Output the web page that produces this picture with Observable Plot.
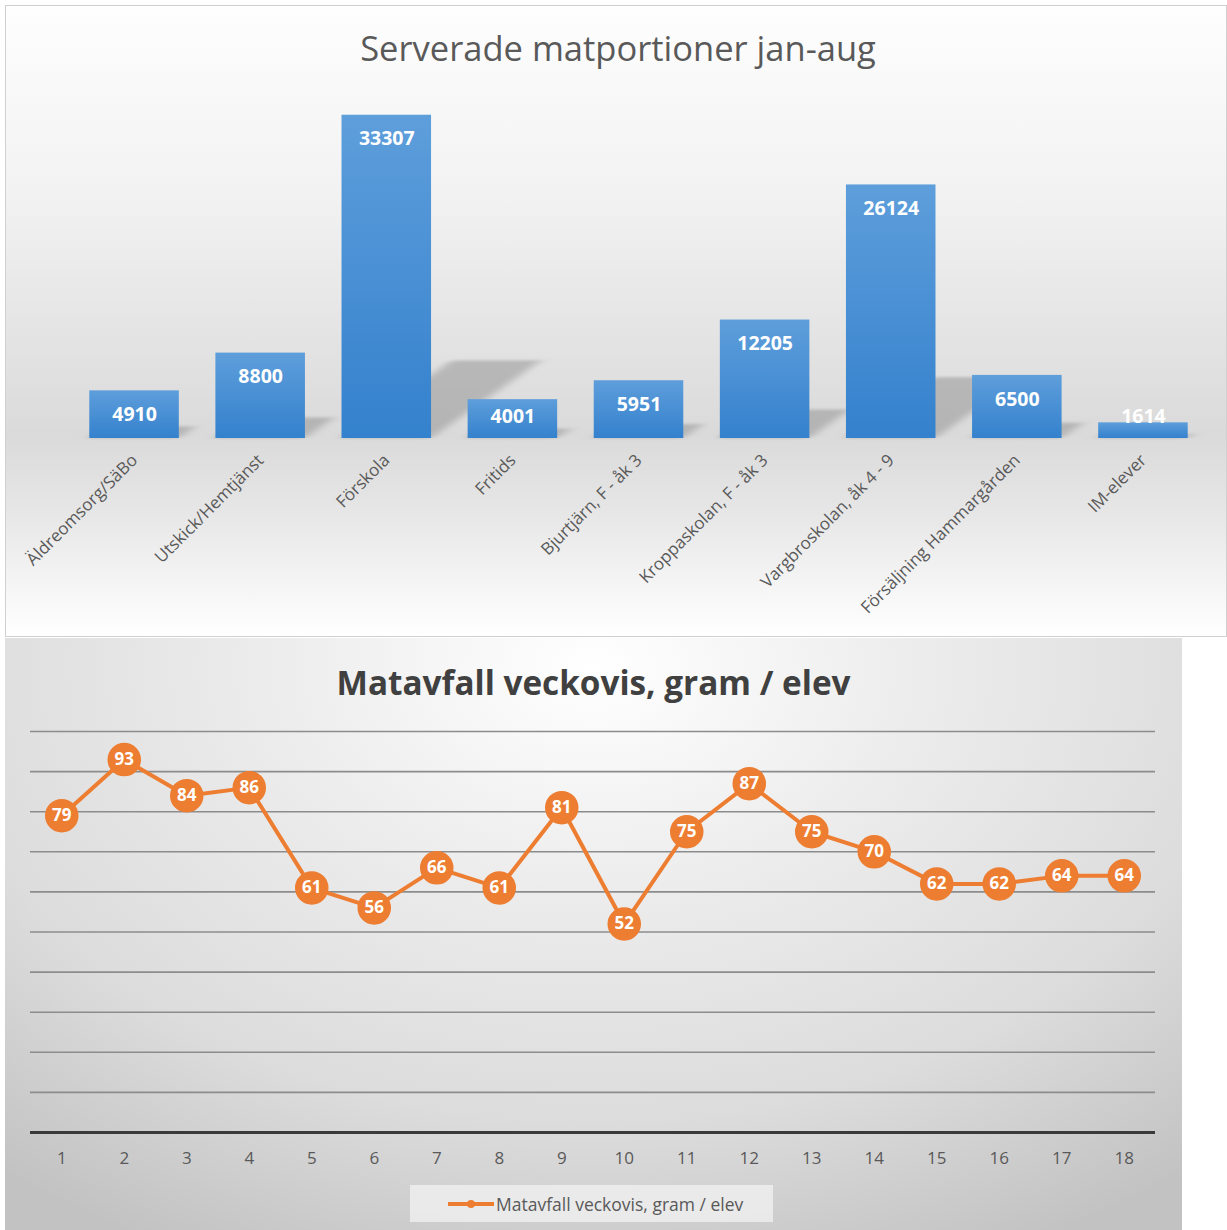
<!DOCTYPE html>
<html>
<head>
<meta charset="utf-8">
<script src="https://cdn.jsdelivr.net/npm/d3@7"></script>
<script src="https://cdn.jsdelivr.net/npm/@observablehq/plot@0.6"></script>
<style>
  html, body { margin: 0; padding: 0; background: #ffffff; width: 1227px; height: 1230px; overflow: hidden; }
  #top {
    position: absolute; left: 5px; top: 5px; width: 1220px; height: 630px;
    border: 1px solid #d0d0d0;
    background: linear-gradient(to bottom, #fefefe 0%, #f2f2f2 30%, #dadada 68%, #e6e6e6 80%, #ffffff 100%);
  }
  #top .title {
    height: 90px; line-height: 84px; text-align: center;
    font-family: "Open Sans", sans-serif; font-size: 34.5px; color: #595959;
    padding-left: 4px;
  }
  #bottom {
    position: absolute; left: 5px; top: 638px; width: 1177px; height: 592px;
    background: radial-gradient(ellipse 80% 110% at 50% 5%, #ffffff 0%, #ececec 35%, #dcdcdc 70%, #c2c2c2 100%);
  }
  #bottom .title {
    height: 89px; line-height: 88px; text-align: center;
    font-family: "Open Sans", sans-serif; font-weight: 700; font-size: 33.3px; color: #404040;
  }
  #legend {
    position: absolute; left: 405px; top: 547px; width: 363px; height: 37px;
    background: rgba(240,240,240,0.8);
    font-family: "Open Sans", sans-serif; font-size: 17.5px; color: #595959;
    display: flex; align-items: center;
  }
  #legend svg { margin-left: 36px; }
  svg { display: block; overflow: visible; }
</style>
</head>
<body>
<div id="top"><div class="title">Serverade matportioner jan-aug</div></div>
<div id="bottom"><div class="title">Matavfall veckovis, gram / elev</div><div id="legend"></div></div>
<script>
// ---- Data: top chart ----
const categories = [
  "Äldreomsorg/SäBo", "Utskick/Hemtjänst", "Förskola", "Fritids",
  "Bjurtjärn, F - åk 3", "Kroppaskolan, F - åk 3", "Vargbroskolan, åk 4 - 9",
  "Försäljning Hammargården", "IM-elever"
];
const portions = [4910, 8800, 33307, 4001, 5951, 12205, 26124, 6500, 1614];
// labels of short bars sit at the same height as that of a bar of this value
const minLabelValue = 4750;

// ---- Data: bottom chart ----
const weeks = [1,2,3,4,5,6,7,8,9,10,11,12,13,14,15,16,17,18];
const waste = [79,93,84,86,61,56,66,61,81,52,75,87,75,70,62,62,64,64];
const wasteTicks = [0,10,20,30,40,50,60,70,80,90,100];
const seriesName = "Matavfall veckovis, gram / elev";

const barData = categories.map((c, i) => ({cat: c, value: portions[i]}));
const lineData = weeks.map((w, i) => ({week: w, value: waste[i]}));

// ---- Top: bar chart ----
const bar = Plot.plot({
  width: 1220,
  height: 540,
  marginTop: 12,
  marginBottom: 198,
  marginLeft: 65,
  marginRight: 20,
  style: {background: "transparent", fontFamily: "Open Sans, sans-serif"},
  x: {domain: categories, paddingInner: 0.29, paddingOuter: 0.145, round: false, label: null},
  y: {domain: [0, 34000], axis: null},
  marks: [
    Plot.barY(barData, {x: "cat", y: "value", fill: "url(#barGrad)"}),
    Plot.text(barData, {x: "cat", y: d => Math.max(d.value, minLabelValue), text: d => String(d.value), dy: 24,
      fill: "white", fontWeight: "bold", fontSize: 19.5}),
    Plot.axisX({tickSize: 0, tickPadding: 19, tickRotate: -45, fontSize: 17, fill: "#595959", label: null})
  ]
});
document.getElementById("top").appendChild(bar);

// gradient + perspective shadow (derived from the rendered bars)
(function () {
  const svg = d3.select(bar);
  const defs = svg.insert("defs", ":first-child");
  const g = defs.append("linearGradient").attr("id", "barGrad").attr("x1", 0).attr("y1", 0).attr("x2", 0).attr("y2", 1);
  g.append("stop").attr("offset", "0%").attr("stop-color", "#5e9edb");
  g.append("stop").attr("offset", "100%").attr("stop-color", "#3481cd");
  const f = defs.append("filter").attr("id", "blur").attr("x", "-50%").attr("y", "-50%").attr("width", "200%").attr("height", "200%");
  f.append("feGaussianBlur").attr("stdDeviation", 6);
  const base = bar.scale("y").apply(0);
  const barsG = svg.select('g[aria-label="bar"]');
  const shadow = barsG.node().cloneNode(true);
  shadow.setAttribute("aria-label", "bar-shadow");
  shadow.setAttribute("fill", "#7a7a7a");
  shadow.setAttribute("fill-opacity", "0.4");
  shadow.setAttribute("filter", "url(#blur)");
  shadow.setAttribute("transform", `matrix(1,0,-0.34,0.24,${0.34 * base},${0.76 * base})`);
  shadow.querySelectorAll("rect").forEach(r => r.removeAttribute("fill"));
  barsG.node().parentNode.insertBefore(shadow, barsG.node());
})();

// ---- Bottom: line chart ----
const line = Plot.plot({
  width: 1177,
  height: 445,
  marginTop: 4,
  marginBottom: 40,
  marginLeft: 25,
  marginRight: 27,
  style: {background: "transparent", fontFamily: "Open Sans, sans-serif"},
  x: {type: "point", domain: weeks, padding: 0.5, round: false, label: null},
  y: {domain: [0, 100], axis: null},
  marks: [
    Plot.ruleY(wasteTicks.filter(t => t > 0), {stroke: "#8c8c8c", strokeWidth: 1.6}),
    Plot.ruleY([0], {stroke: "#3a3a3a", strokeWidth: 3}),
    Plot.line(lineData, {x: "week", y: "value", stroke: "#ed7d31", strokeWidth: 4}),
    Plot.dot(lineData, {x: "week", y: "value", r: 16, fill: "#ed7d31", stroke: "#ed7d31"}),
    Plot.text(lineData, {x: "week", y: "value", text: d => String(d.value), fill: "white",
      fontWeight: "bold", fontSize: 17}),
    Plot.axisX({tickSize: 0, tickPadding: 19, fontSize: 17, fill: "#595959", label: null})
  ]
});
document.getElementById("bottom").insertBefore(line, document.getElementById("legend"));

// ---- Legend ----
(function () {
  const leg = d3.select("#legend");
  const s = leg.append("svg").attr("width", 50).attr("height", 20);
  s.append("line").attr("x1", 2).attr("x2", 48).attr("y1", 10).attr("y2", 10)
    .attr("stroke", "#ed7d31").attr("stroke-width", 4);
  s.append("circle").attr("cx", 25).attr("cy", 10).attr("r", 4).attr("fill", "#ed7d31");
  leg.append("span").text(seriesName);
})();
</script>
</body>
</html>
